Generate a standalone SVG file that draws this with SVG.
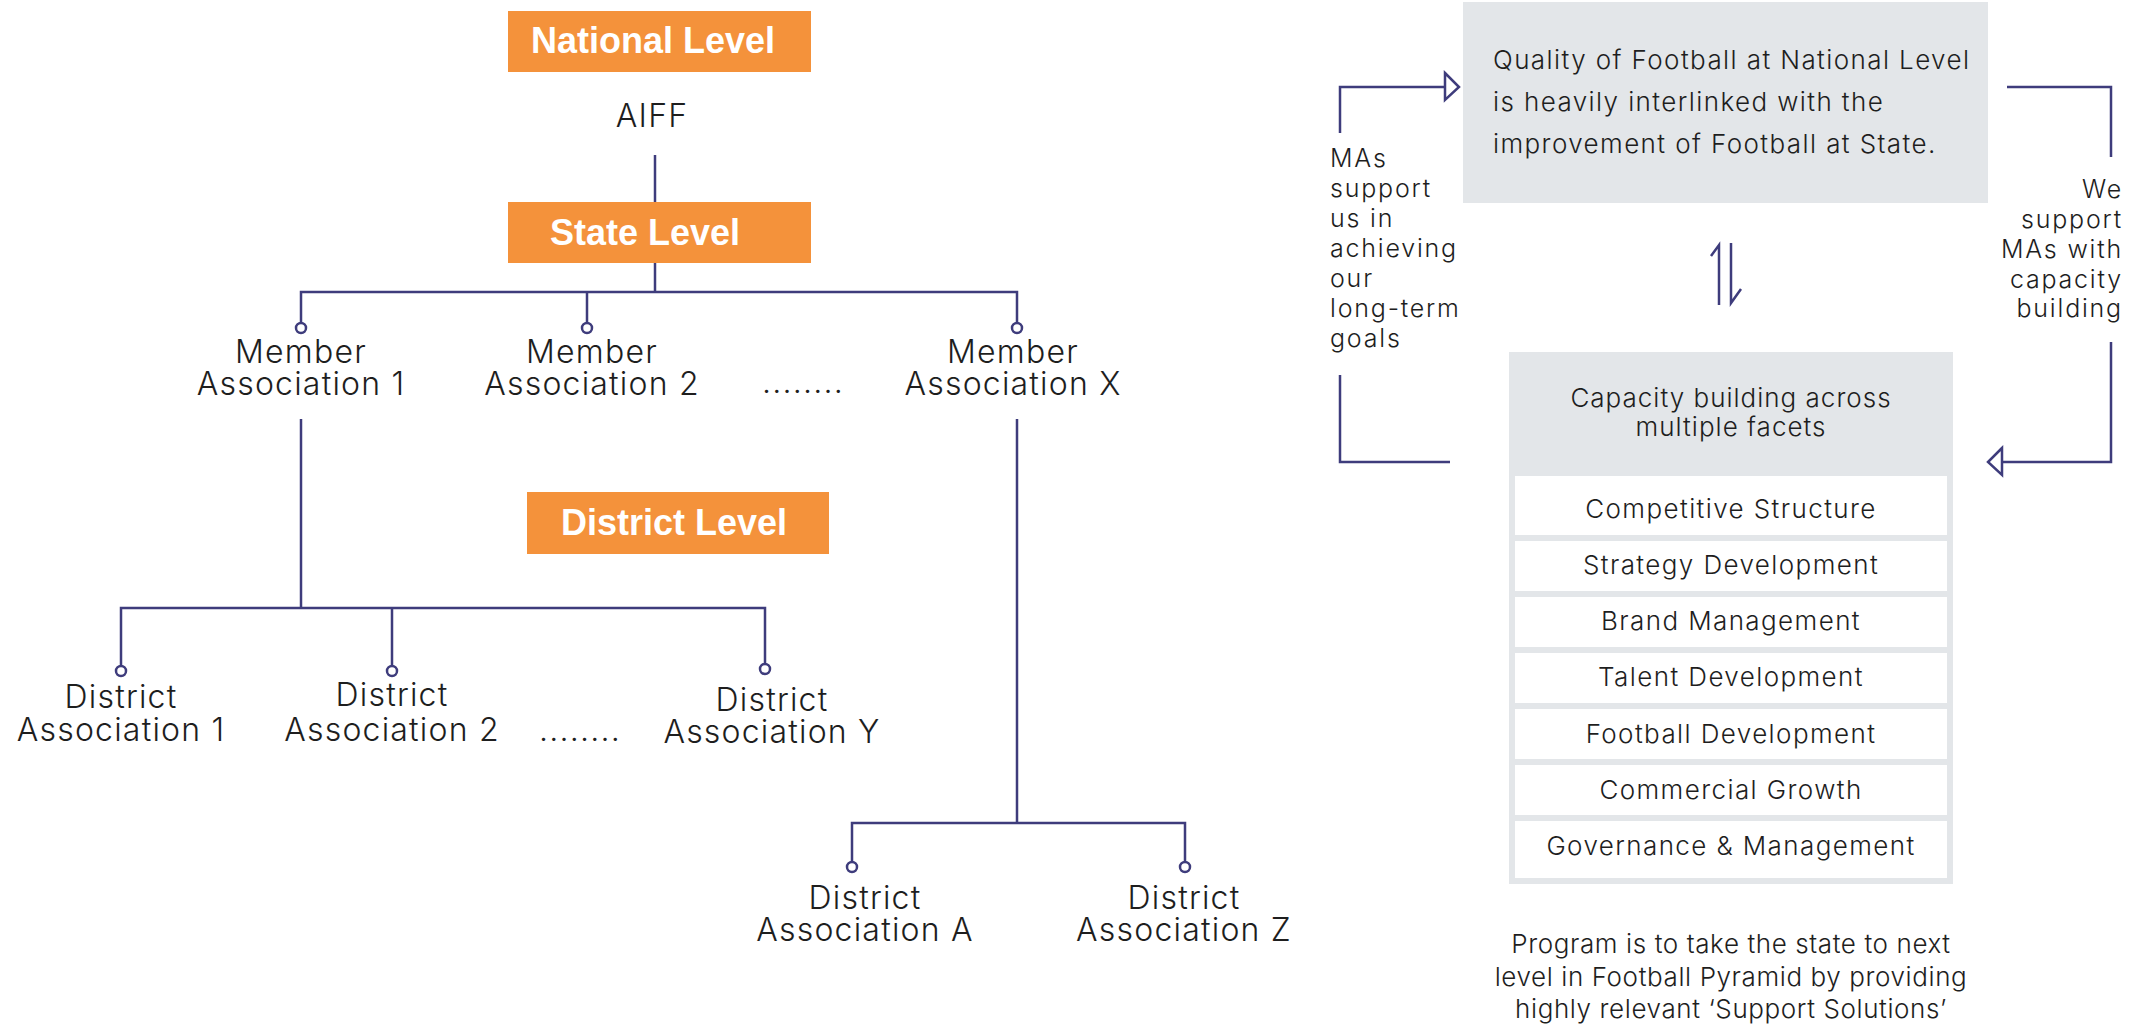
<svg xmlns="http://www.w3.org/2000/svg" width="2146" height="1025" viewBox="0 0 2146 1025">
<style>
.lvl{fill:#f4923b}
.lvlt{font-family:"Liberation Sans",Arial,sans-serif;font-weight:bold;font-size:36px;fill:#fff;text-anchor:middle}
.lbl{font-family:Inter,"Open Sans",sans-serif;font-weight:300;font-size:32px;letter-spacing:1.2px;fill:#1e1e1e;text-anchor:middle}
.sm{font-family:Inter,"Open Sans",sans-serif;font-weight:300;font-size:25px;letter-spacing:1.8px;fill:#1e1e1e}
.q{font-size:26px;letter-spacing:1.4px}
.hd{font-size:26px;letter-spacing:1px}
.it{font-size:26px;letter-spacing:1.4px}
.pg{font-size:26px;letter-spacing:0.6px}
.mid{text-anchor:middle}
.end{text-anchor:end}
.ln{fill:none;stroke:#3e3c7c;stroke-width:2.5}
.dot{fill:#fff;stroke:#3e3c7c;stroke-width:2.5}
.ah{fill:#fff;stroke:#3e3c7c;stroke-width:2.5;stroke-linejoin:miter}
.gbox{fill:#e3e6e9}
.row{fill:#fff}
</style>
<rect width="2146" height="1025" fill="#fff"/>
<g id="connectors">
<path class="ln" d="M655 155V202"/>
<path class="ln" d="M655 263V292"/>
<path class="ln" d="M301 323V292H1017V323M587 292V323"/>
<path class="ln" d="M301 419V608"/>
<path class="ln" d="M121 666V608H765V664M392 608V666"/>
<path class="ln" d="M1017 419V823"/>
<path class="ln" d="M852 862V823H1185V862"/>
<circle class="dot" cx="301" cy="328" r="5"/>
<circle class="dot" cx="587" cy="328" r="5"/>
<circle class="dot" cx="1017" cy="328" r="5"/>
<circle class="dot" cx="121" cy="671" r="5"/>
<circle class="dot" cx="392" cy="671" r="5"/>
<circle class="dot" cx="765" cy="669" r="5"/>
<circle class="dot" cx="852" cy="867" r="5"/>
<circle class="dot" cx="1185" cy="867" r="5"/>
<path class="ln" d="M1340 133V87H1446"/>
<polygon class="ah" points="1445,73 1459,87 1445,100"/>
<path class="ln" d="M1340 375V462H1450"/>
<path class="ln" d="M2007 87H2111V157"/>
<path class="ln" d="M2111 342V462H2002"/>
<polygon class="ah" points="2002,448 1988,462 2002,475"/>
<path class="ln" d="M1719 305V245L1711 256"/>
<path class="ln" d="M1731 243V303L1741 289"/>
</g>
<g id="national-level">
<rect class="lvl" x="508" y="11" width="303" height="61"/>
<text class="lvlt" x="653" y="53">National Level</text>
</g>
<g id="aiff"><text class="lbl" x="652" y="127">AIFF</text></g>
<g id="state-level">
<rect class="lvl" x="508" y="202" width="303" height="61"/>
<text class="lvlt" x="645" y="245">State Level</text>
</g>
<g id="district-level">
<rect class="lvl" x="527" y="492" width="302" height="62"/>
<text class="lvlt" x="674" y="535">District Level</text>
</g>
<g id="ma1"><text class="lbl" x="301" y="363">Member</text><text class="lbl" x="301" y="395">Association 1</text></g>
<g id="ma2"><text class="lbl" x="592" y="363">Member</text><text class="lbl" x="592" y="395">Association 2</text></g>
<g id="ma-dots"><text class="lbl" x="803" y="393">........</text></g>
<g id="max"><text class="lbl" x="1013" y="363">Member</text><text class="lbl" x="1013" y="395">Association X</text></g>
<g id="da1"><text class="lbl" x="121" y="708">District</text><text class="lbl" x="121" y="741">Association 1</text></g>
<g id="da2"><text class="lbl" x="392" y="706">District</text><text class="lbl" x="392" y="741">Association 2</text></g>
<g id="da-dots"><text class="lbl" x="580" y="741">........</text></g>
<g id="day"><text class="lbl" x="772" y="711">District</text><text class="lbl" x="772" y="743">Association Y</text></g>
<g id="daa"><text class="lbl" x="865" y="909">District</text><text class="lbl" x="865" y="941">Association A</text></g>
<g id="daz"><text class="lbl" x="1184" y="909">District</text><text class="lbl" x="1184" y="941">Association Z</text></g>
<g id="quality">
<rect class="gbox" x="1463" y="2" width="525" height="201"/>
<text class="sm q" x="1493" y="69">Quality of Football at National Level</text>
<text class="sm q" x="1493" y="111">is heavily interlinked with the</text>
<text class="sm q" x="1493" y="153">improvement of Football at State.</text>
</g>
<g id="mas-support">
<text class="sm" x="1330" y="167">MAs</text>
<text class="sm" x="1330" y="197">support</text>
<text class="sm" x="1330" y="227">us in</text>
<text class="sm" x="1330" y="257">achieving</text>
<text class="sm" x="1330" y="287">our</text>
<text class="sm" x="1330" y="317">long-term</text>
<text class="sm" x="1330" y="347">goals</text>
</g>
<g id="we-support">
<text class="sm end" x="2123" y="198">We</text>
<text class="sm end" x="2123" y="228">support</text>
<text class="sm end" x="2123" y="258">MAs with</text>
<text class="sm end" x="2123" y="288">capacity</text>
<text class="sm end" x="2123" y="317">building</text>
</g>
<g id="capacity">
<rect class="gbox" x="1509" y="352" width="444" height="532"/>
<text class="sm hd mid" x="1731" y="407">Capacity building across</text>
<text class="sm hd mid" x="1731" y="436">multiple facets</text>
<rect class="row" x="1515" y="476" width="432" height="59"/>
<rect class="row" x="1515" y="541" width="432" height="50"/>
<rect class="row" x="1515" y="597" width="432" height="50"/>
<rect class="row" x="1515" y="653" width="432" height="50"/>
<rect class="row" x="1515" y="709" width="432" height="50"/>
<rect class="row" x="1515" y="765" width="432" height="50"/>
<rect class="row" x="1515" y="821" width="432" height="57"/>
<text class="sm it mid" x="1731" y="518">Competitive Structure</text>
<text class="sm it mid" x="1731" y="574">Strategy Development</text>
<text class="sm it mid" x="1731" y="630">Brand Management</text>
<text class="sm it mid" x="1731" y="686">Talent Development</text>
<text class="sm it mid" x="1731" y="743">Football Development</text>
<text class="sm it mid" x="1731" y="799">Commercial Growth</text>
<text class="sm it mid" x="1731" y="855">Governance &amp; Management</text>
</g>
<g id="program">
<text class="sm pg mid" x="1731" y="953">Program is to take the state to next</text>
<text class="sm pg mid" x="1731" y="986">level in Football Pyramid by providing</text>
<text class="sm pg mid" x="1731" y="1018">highly relevant ‘Support Solutions’</text>
</g>
</svg>
